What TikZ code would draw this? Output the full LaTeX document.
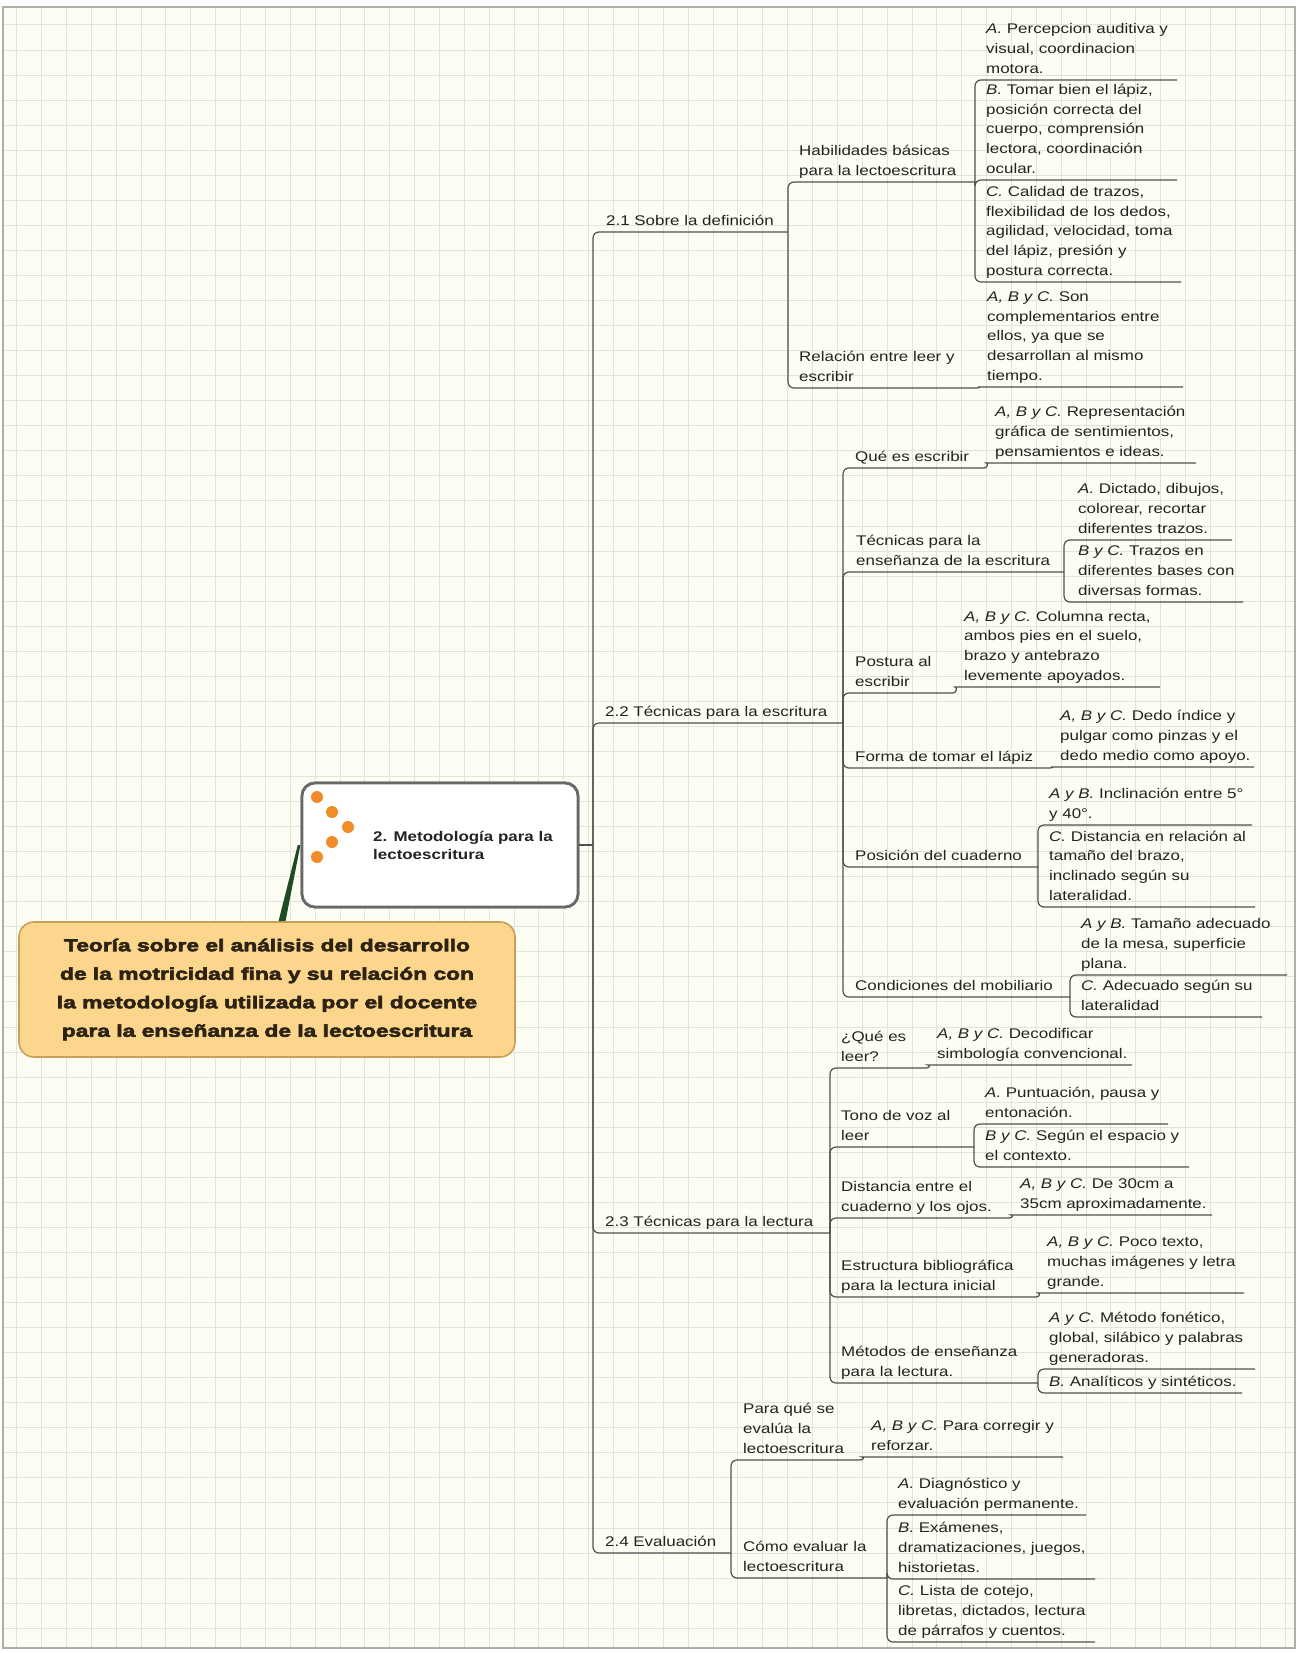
\documentclass[tikz,border=0pt]{standalone}
\usepackage{fontspec}
\newfontfamily\mmfont[FakeStretch=1.21]{Liberation Sans}
\newfontfamily\rootfont[FakeStretch=1.34,FakeBold=3.5]{Liberation Sans}
\newcommand\ls{\rule[-4pt]{0pt}{4pt}}
\definecolor{bgc}{RGB}{253,253,243}
\definecolor{gridc}{RGB}{226,228,218}
\definecolor{framec}{RGB}{175,175,168}
\definecolor{linec}{RGB}{80,80,80}
\definecolor{txt}{RGB}{35,35,35}
\definecolor{cbdraw}{RGB}{105,105,105}
\definecolor{dotc}{RGB}{242,140,40}
\definecolor{rootfill}{RGB}{252,214,140}
\definecolor{rootdraw}{RGB}{200,160,90}
\definecolor{roottxt}{RGB}{45,35,20}
\definecolor{gline}{RGB}{30,75,35}
\begin{document}
\begin{tikzpicture}[x=1pt,y=-1pt,
  topic/.style={anchor=south west, inner sep=0pt, align=left, text=txt,
    font=\mmfont\fontsize{14}{19.7}\selectfont},
  link/.style={draw=linec, line width=1.2pt, rounded corners=6pt},
  cboxst/.style={draw=cbdraw, line width=2.8pt, fill=white, rounded corners=13pt,
    minimum width=276pt, minimum height=124pt, inner sep=0pt},
  rootst/.style={draw=rootdraw, line width=1.6pt, fill=rootfill, rounded corners=15pt,
    minimum width=496pt, minimum height=135pt, inner sep=0pt, align=center, text=roottxt,
    font=\rootfont\bfseries\fontsize{17}{28.5}\selectfont},
  gridln/.style={draw=gridc, line width=1pt}]
\useasboundingbox (0,0) rectangle (1298,1653);
\fill[white] (0,0) rectangle (1298,1653);
\fill[bgc] (3,7) rectangle (1295,1648);
\foreach \i in {0,...,51} \draw[gridln] ({16.7+24.87*\i},7) -- ({16.7+24.87*\i},1648);
\foreach \j in {0,...,64} \draw[gridln] (3,{25+25.05*\j}) -- (1295,{25+25.05*\j});
\draw[framec, line width=1.2pt] (3,7) rectangle (1295,1648);

% central and root
\node[cboxst] (cb) at (440,845) {};
\node[rootst] (root) at (267,989.5) {Teoría sobre el análisis del desarrollo\\de la motricidad fina y su relación con\\la metodología utilizada por el docente\\para la enseñanza de la lectoescritura};
\coordinate (gb) at ([xshift=15pt]root.north);
\coordinate (gt) at ([xshift=-1.5pt]cb.west);
\fill[gline] ([xshift=-3.5pt]gb) -- ([xshift=3.5pt]gb) -- ([xshift=1.3pt]gt) -- ([xshift=-1.3pt]gt) -- cycle;
\node[cboxst] at (cb) {};
\node[anchor=west, inner sep=0pt, align=left, text=txt, font=\mmfont\bfseries\fontsize{14}{18.5}\selectfont] (cbt) at (373,845.5) {2. Metodología para la\\lectoescritura};
\foreach \p in {(317,797),(332,812),(348,827),(332,842),(317,857)} \fill[dotc] \p circle (6);

% level 1
\coordinate (trunk) at (593,845);
\node[topic] (n21) at (606,229.5) {2.1 Sobre la definición\ls}; \coordinate (n21-e) at (788,232);
\node[topic] (n22) at (605,720.5) {2.2 Técnicas para la escritura\ls}; \coordinate (n22-e) at (843,723);
\node[topic] (n23) at (605,1230.5) {2.3 Técnicas para la lectura\ls}; \coordinate (n23-e) at (830,1233);
\node[topic] (n24) at (605,1550.5) {2.4 Evaluación\ls}; \coordinate (n24-e) at (731,1553);

% 2.1
\node[topic] (hab) at (799,179.5) {Habilidades básicas\\para la lectoescritura\ls}; \coordinate (hab-e) at (975,182);
\node[topic] (rel) at (799,385.5) {Relación entre leer y\\escribir\ls}; \coordinate (rel-e) at (976,388);
\node[topic] (hA) at (986,77.5) {\textit{A.} Percepcion auditiva y\\visual, coordinacion\\motora.\ls}; \coordinate (hA-e) at (1177,80);
\node[topic] (hB) at (986,177.5) {\textit{B.} Tomar bien el lápiz,\\posición correcta del\\cuerpo, comprensión\\lectora, coordinación\\ocular.\ls}; \coordinate (hB-e) at (1177,180);
\node[topic] (hC) at (986,279.5) {\textit{C.} Calidad de trazos,\\flexibilidad de los dedos,\\agilidad, velocidad, toma\\del lápiz, presión y\\postura correcta.\ls}; \coordinate (hC-e) at (1181,282);
\node[topic] (rA) at (987,384.5) {\textit{A, B y C.} Son\\complementarios entre\\ellos, ya que se\\desarrollan al mismo\\tiempo.\ls}; \coordinate (rA-s) at (984,387); \coordinate (rA-e) at (1183,387);

% 2.2
\node[topic] (qe) at (855,465.5) {Qué es escribir\ls}; \coordinate (qe-e) at (984,468);
\node[topic] (qeA) at (995,460.5) {\textit{A, B y C.} Representación\\gráfica de sentimientos,\\pensamientos e ideas.\ls}; \coordinate (qeA-s) at (992,463); \coordinate (qeA-e) at (1196,463);
\node[topic] (te) at (856,569.5) {Técnicas para la\\enseñanza de la escritura\ls}; \coordinate (te-e) at (1064,572);
\node[topic] (teA) at (1078,537.5) {\textit{A.} Dictado, dibujos,\\colorear, recortar\\diferentes trazos.\ls}; \coordinate (teA-e) at (1232,540);
\node[topic] (teB) at (1078,599.5) {\textit{B y C.} Trazos en\\diferentes bases con\\diversas formas.\ls}; \coordinate (teB-e) at (1243,602);
\node[topic] (po) at (855,690.5) {Postura al\\escribir\ls}; \coordinate (po-e) at (953,693);
\node[topic] (poA) at (964,684.5) {\textit{A, B y C.} Columna recta,\\ambos pies en el suelo,\\brazo y antebrazo\\levemente apoyados.\ls}; \coordinate (poA-s) at (961,687); \coordinate (poA-e) at (1160,687);
\node[topic] (fo) at (855,765.5) {Forma de tomar el lápiz\ls}; \coordinate (fo-e) at (1049,768);
\node[topic] (foA) at (1060,764.5) {\textit{A, B y C.} Dedo índice y\\pulgar como pinzas y el\\dedo medio como apoyo.\ls}; \coordinate (foA-s) at (1057,767); \coordinate (foA-e) at (1254,767);
\node[topic] (ps) at (855,864.5) {Posición del cuaderno\ls}; \coordinate (ps-e) at (1038,867);
\node[topic] (psA) at (1049,822.5) {\textit{A y B.} Inclinación entre 5°\\y 40°.\ls}; \coordinate (psA-e) at (1252,825);
\node[topic] (psC) at (1049,904.5) {\textit{C.} Distancia en relación al\\tamaño del brazo,\\inclinado según su\\lateralidad.\ls}; \coordinate (psC-e) at (1255,907);
\node[topic] (co) at (855,994.5) {Condiciones del mobiliario\ls}; \coordinate (co-e) at (1070,997);
\node[topic] (coA) at (1081,972.5) {\textit{A y B.} Tamaño adecuado\\de la mesa, superficie\\plana.\ls}; \coordinate (coA-e) at (1287,975);
\node[topic] (coC) at (1081,1014.5) {\textit{C.} Adecuado según su\\lateralidad\ls}; \coordinate (coC-e) at (1262,1017);

% 2.3
\node[topic] (ql) at (841,1065.5) {¿Qué es\\leer?\ls}; \coordinate (ql-e) at (926,1068);
\node[topic] (qlA) at (937,1062.5) {\textit{A, B y C.} Decodificar\\simbología convencional.\ls}; \coordinate (qlA-s) at (934,1065); \coordinate (qlA-e) at (1132,1065);
\node[topic] (to) at (841,1144.5) {Tono de voz al\\leer\ls}; \coordinate (to-e) at (974,1147);
\node[topic] (toA) at (985,1121.5) {\textit{A.} Puntuación, pausa y\\entonación.\ls}; \coordinate (toA-e) at (1168,1124);
\node[topic] (toB) at (985,1164.5) {\textit{B y C.} Según el espacio y\\el contexto.\ls}; \coordinate (toB-e) at (1189,1167);
\node[topic] (di) at (841,1215.5) {Distancia entre el\\cuaderno y los ojos.\ls}; \coordinate (di-e) at (1009,1218);
\node[topic] (diA) at (1020,1212.5) {\textit{A, B y C.} De 30cm a\\35cm aproximadamente.\ls}; \coordinate (diA-s) at (1017,1215); \coordinate (diA-e) at (1212,1215);
\node[topic] (es) at (841,1294.5) {Estructura bibliográfica\\para la lectura inicial\ls}; \coordinate (es-e) at (1036,1297);
\node[topic] (esA) at (1047,1290.5) {\textit{A, B y C.} Poco texto,\\muchas imágenes y letra\\grande.\ls}; \coordinate (esA-s) at (1044,1293); \coordinate (esA-e) at (1244,1293);
\node[topic] (me) at (841,1380.5) {Métodos de enseñanza\\para la lectura.\ls}; \coordinate (me-e) at (1038,1383);
\node[topic] (meA) at (1049,1366.5) {\textit{A y C.} Método fonético,\\global, silábico y palabras\\generadoras.\ls}; \coordinate (meA-e) at (1255,1369);
\node[topic] (meB) at (1049,1390.5) {\textit{B.} Analíticos y sintéticos.\ls}; \coordinate (meB-e) at (1242,1393);

% 2.4
\node[topic] (pq) at (743,1457.5) {Para qué se\\evalúa la\\lectoescritura\ls}; \coordinate (pq-e) at (860,1460);
\node[topic] (pqA) at (871,1454.5) {\textit{A, B y C.} Para corregir y\\reforzar.\ls}; \coordinate (pqA-s) at (868,1457); \coordinate (pqA-e) at (1063,1457);
\node[topic] (ce) at (743,1575.5) {Cómo evaluar la\\lectoescritura\ls}; \coordinate (ce-e) at (887,1578);
\node[topic] (ceA) at (898,1512.5) {\textit{A.} Diagnóstico y\\evaluación permanente.\ls}; \coordinate (ceA-e) at (1086,1515);
\node[topic] (ceB) at (898,1576.5) {\textit{B.} Exámenes,\\dramatizaciones, juegos,\\historietas.\ls}; \coordinate (ceB-e) at (1095,1579);
\node[topic] (ceC) at (898,1639.5) {\textit{C.} Lista de cotejo,\\libretas, dictados, lectura\\de párrafos y cuentos.\ls}; \coordinate (ceC-e) at (1095,1642);

% connectors
\draw[link] (cb.east) -- (trunk);
\foreach \c in {n21,n22,n23,n24} \draw[link] (trunk) |- (\c-e);
\foreach \c in {hab,rel} \draw[link] (n21-e) |- (\c-e);
\foreach \c in {hA,hB,hC} \draw[link] (hab-e) |- (\c-e);
\foreach \c in {qe,te,po,fo,ps,co} \draw[link] (n22-e) |- (\c-e);
\foreach \c in {teA,teB} \draw[link] (te-e) |- (\c-e);
\foreach \c in {psA,psC} \draw[link] (ps-e) |- (\c-e);
\foreach \c in {coA,coC} \draw[link] (co-e) |- (\c-e);
\foreach \c in {ql,to,di,es,me} \draw[link] (n23-e) |- (\c-e);
\foreach \c in {toA,toB} \draw[link] (to-e) |- (\c-e);
\foreach \c in {meA,meB} \draw[link] (me-e) |- (\c-e);
\foreach \c in {pq,ce} \draw[link] (n24-e) |- (\c-e);
\foreach \c in {ceA,ceB,ceC} \draw[link] (ce-e) |- (\c-e);
\foreach \p/\c in {rel/rA,qe/qeA,po/poA,fo/foA,ql/qlA,di/diA,es/esA,pq/pqA}
  \draw[link] (\p-e) to[out=0,in=180] (\c-s) -- (\c-e);
\end{tikzpicture}
\end{document}
